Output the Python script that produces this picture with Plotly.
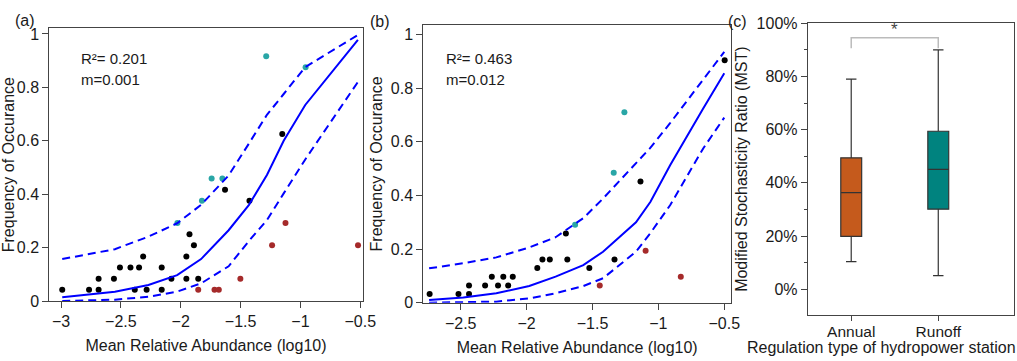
import plotly.graph_objects as go

# ---------------- data: panel (a) ----------------
a_black_x = [-2.99, -2.766, -2.686, -2.686, -2.558, -2.508, -2.42, -2.348, -2.384, -2.314,
             -2.285, -2.159, -2.159, -2.078, -1.953, -1.953, -1.927, -1.89, -1.854, -1.63,
             -1.426, -1.152]
a_black_y = [0.0417, 0.0417, 0.0417, 0.0833, 0.0833, 0.125, 0.125, 0.125, 0.0417, 0.1667,
             0.0417, 0.125, 0.0417, 0.0833, 0.1667, 0.0833, 0.25, 0.2083, 0.0833, 0.4167,
             0.375, 0.625]
a_teal_x = [-2.028, -1.823, -1.742, -1.652, -1.286, -0.957]
a_teal_y = [0.2917, 0.375, 0.4583, 0.4583, 0.9167, 0.875]
a_red_x = [-1.854, -1.718, -1.682, -1.502, -1.237, -1.125, -0.519]
a_red_y = [0.0417, 0.0417, 0.0417, 0.0833, 0.2083, 0.2917, 0.2083]

a_fit_x = [-2.99, -2.77, -2.55, -2.27, -2.03, -1.83, -1.6, -1.43, -1.28, -1.14, -0.96, -0.52]
a_fit = [0.014, 0.024, 0.035, 0.06, 0.097, 0.157, 0.265, 0.36, 0.472, 0.6, 0.734, 0.978]
a_upper = [0.157, 0.175, 0.194, 0.241, 0.291, 0.36, 0.47, 0.59, 0.697, 0.775, 0.876, 0.996]
a_lower = [0.0, 0.002, 0.005, 0.016, 0.035, 0.066, 0.13, 0.225, 0.303, 0.403, 0.53, 0.82]

# ---------------- data: panel (b) ----------------
b_black_x = [-2.736, -2.517, -2.437, -2.437, -2.315, -2.264, -2.217, -2.177, -2.14, -2.105,
             -1.919, -1.88, -1.824, -1.702, -1.691, -1.524, -1.333, -1.136, -0.497]
b_black_y = [0.0323, 0.0323, 0.0323, 0.0645, 0.0645, 0.0968, 0.0645, 0.0968, 0.0645, 0.0968,
             0.129, 0.1613, 0.1613, 0.2581, 0.1613, 0.129, 0.1613, 0.4516, 0.9032]
b_teal_x = [-1.632, -1.339, -1.258]
b_teal_y = [0.2903, 0.4839, 0.7097]
b_red_x = [-1.445, -1.097, -0.83]
b_red_y = [0.0645, 0.1935, 0.0968]

b_fit_x = [-2.74, -2.48, -2.23, -1.98, -1.78, -1.57, -1.42, -1.17, -1.06, -0.91, -0.66, -0.5]
b_fit = [0.010, 0.019, 0.035, 0.062, 0.097, 0.140, 0.19, 0.30, 0.376, 0.513, 0.724, 0.855]
b_upper = [0.128, 0.147, 0.169, 0.206, 0.244, 0.315, 0.388, 0.518, 0.578, 0.67, 0.832, 0.935]
b_lower = [0.0, 0.001, 0.004, 0.016, 0.035, 0.062, 0.091, 0.19, 0.26, 0.364, 0.575, 0.69]

# ---------------- data: panel (c) ----------------
c_categories = ["Annual", "Runoff"]
c_min = [0.104, 0.051]
c_q1 = [0.199, 0.301]
c_median = [0.363, 0.451]
c_q3 = [0.494, 0.594]
c_max = [0.79, 0.90]
c_colors = ["#C55A1C", "#00837F"]

BLACK = "#000000"
TEAL = "#29A6A6"
RED = "#A52A2A"
BLUE = "#0000FF"
FONT = "Liberation Sans, Arial, sans-serif"

fig = go.Figure()


def add_scatter_panel(xa, ya, bx, by, tx, ty, rx, ry, fx, fy, up, lo):
    for xs, ys, col in [(bx, by, BLACK), (tx, ty, TEAL), (rx, ry, RED)]:
        fig.add_trace(go.Scatter(x=xs, y=ys, mode="markers", xaxis=xa, yaxis=ya,
                                 marker=dict(color=col, size=6), showlegend=False))
    fig.add_trace(go.Scatter(x=fx, y=fy, mode="lines", xaxis=xa, yaxis=ya,
                             line=dict(color=BLUE, width=2), showlegend=False))
    for yy in (up, lo):
        fig.add_trace(go.Scatter(x=fx, y=yy, mode="lines", xaxis=xa, yaxis=ya,
                                 line=dict(color=BLUE, width=2, dash="8px,5px"),
                                 showlegend=False))


add_scatter_panel("x", "y", a_black_x, a_black_y, a_teal_x, a_teal_y, a_red_x, a_red_y,
                  a_fit_x, a_fit, a_upper, a_lower)
add_scatter_panel("x2", "y2", b_black_x, b_black_y, b_teal_x, b_teal_y, b_red_x, b_red_y,
                  b_fit_x, b_fit, b_upper, b_lower)

for i, cat in enumerate(c_categories):
    fig.add_trace(go.Box(x=[i], q1=[c_q1[i]], median=[c_median[i]], q3=[c_q3[i]],
                         lowerfence=[c_min[i]], upperfence=[c_max[i]],
                         fillcolor=c_colors[i], line=dict(color="#333333", width=1.2),
                         width=0.24, whiskerwidth=0.5, xaxis="x3", yaxis="y3",
                         name=cat, showlegend=False, boxpoints=False))

W, H = 1017, 361


def dx(a, b):
    return [a / W, b / W]


def dy(top, bottom):
    return [1 - bottom / H, 1 - top / H]


axis_common = dict(showline=True, linecolor="#444444", linewidth=1, mirror=True,
                   ticks="outside", ticklen=6, tickcolor="#444444", showgrid=False,
                   zeroline=False, automargin=False,
                   tickfont=dict(size=16, color="#1a1a1a", family=FONT))
TF = dict(size=16, color="#1a1a1a", family=FONT)
c_x_common = {k: v for k, v in axis_common.items() if k not in ("ticklen", "tickfont")}

fig.update_layout(
    width=W, height=H, margin=dict(l=0, r=0, t=0, b=0, autoexpand=False),
    paper_bgcolor="white", plot_bgcolor="white",
    font=dict(family=FONT, size=16, color="#1a1a1a"),
    xaxis=dict(domain=dx(49.3, 362.7), range=[-3.098, -0.48],
               tickvals=[-3, -2.5, -2, -1.5, -1, -0.5],
               ticktext=["\u22123", "\u22122.5", "\u22122", "\u22121.5", "\u22121", "\u22120.5"],
               title=dict(text="Mean Relative Abundance (log10)", font=TF, standoff=10),
               anchor="y", **axis_common),
    yaxis=dict(domain=dy(28.3, 301), range=[0, 1.021],
               tickvals=[0, 0.2, 0.4, 0.6, 0.8, 1], ticktext=["0", "0.2", "0.4", "0.6", "0.8", "1"],
               title=dict(text="Frequency of Occurance", font=TF, standoff=3),
               anchor="x", **axis_common),
    xaxis2=dict(domain=dx(423.3, 731), range=[-2.784, -0.449],
                tickvals=[-2.5, -2, -1.5, -1, -0.5],
                ticktext=["\u22122.5", "\u22122", "\u22121.5", "\u22121", "\u22120.5"],
                title=dict(text="Mean Relative Abundance (log10)", font=TF, standoff=10),
                anchor="y2", **axis_common),
    yaxis2=dict(domain=dy(25, 302.7), range=[0, 1.035],
                tickvals=[0, 0.2, 0.4, 0.6, 0.8, 1], ticktext=["0", "0.2", "0.4", "0.6", "0.8", "1"],
                title=dict(text="Frequency of Occurance", font=TF, standoff=4),
                anchor="x2", **axis_common),
    xaxis3=dict(domain=dx(807.7, 1014), range=[-0.5, 1.87],
                tickvals=[0, 1], ticktext=c_categories, ticklen=5, ticklabelstandoff=-3,
                tickfont=dict(size=15.5, color="#1a1a1a", family=FONT),
                anchor="y3", **c_x_common),
    yaxis3=dict(domain=dy(23.3, 315), range=[-0.097, 1.0],
                tickvals=[0, 0.2, 0.4, 0.6, 0.8, 1.0], tickformat=".0%",
                minor=dict(ticks="outside", dtick=0.1, ticklen=3, tickcolor="#444444"),
                title=dict(text="Modified Stochasticity Ratio (MST)", font=TF, standoff=4),
                anchor="x3", **axis_common),
)

# x-axis title of panel (c), centred as in the original (wider than the plot area)
fig.add_annotation(x=881 / W, y=1 - 347 / H, xref="paper", yref="paper",
                   text="Regulation type of hydropower station", showarrow=False,
                   xanchor="center", yanchor="middle", font=TF)

# significance bracket
fig.add_shape(type="path", path="M 0,0.906 L 0,0.946 L 1,0.946 L 1,0.906",
              xref="x3", yref="y3", line=dict(color="#BBBBBB", width=1.5))
fig.add_annotation(x=0.5, y=0.975, xref="x3", yref="y3", text="*", showarrow=False,
                   font=dict(size=17, color="#444444"))

# panel labels and stats
for txt, px, py in [("(a)", 13, 10), ("(b)", 380, 11), ("(c)", 749, 11)]:
    fig.add_annotation(x=px / W, y=1 - py / H, xref="paper", yref="paper", text=txt,
                       showarrow=False, font=dict(size=16, color="#1a1a1a"))
for txt, px, py in [("R\u00b2= 0.201", 79, 58), ("m=0.001", 79, 79),
                    ("R\u00b2= 0.463", 444, 58), ("m=0.012", 444, 79)]:
    fig.add_annotation(x=px / W, y=1 - py / H, xref="paper", yref="paper", text=txt,
                       showarrow=False, xanchor="left", yanchor="middle",
                       font=dict(size=15, color="#1a1a1a"))

fig.write_html("out.html", config={"displayModeBar": False},
               post_script="document.body.style.margin='0';document.body.style.overflow='hidden';")
